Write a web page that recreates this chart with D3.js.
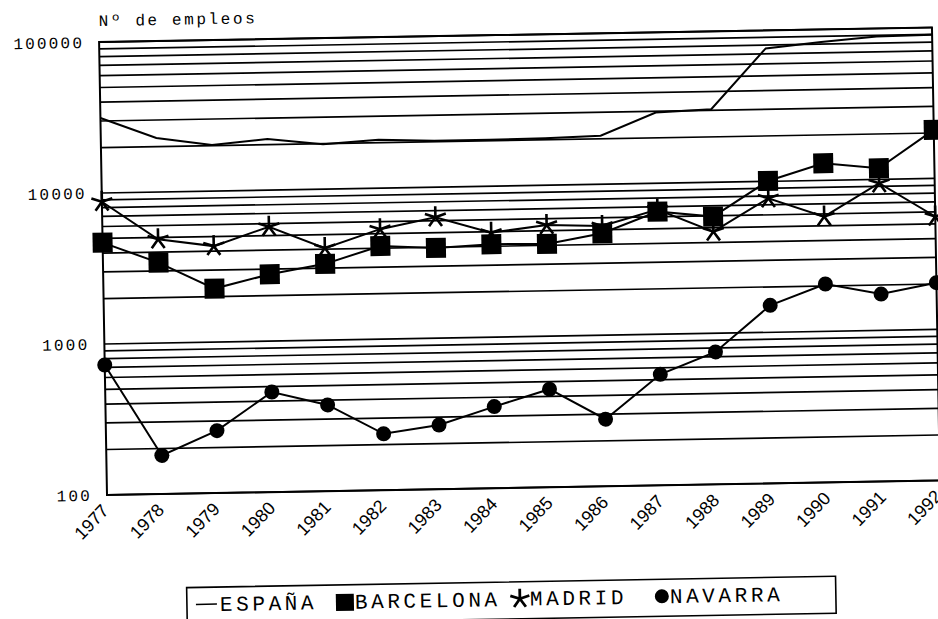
<!DOCTYPE html>
<html lang="es">
<head>
<meta charset="UTF-8">
<title>Nº de empleos 1977-1992</title>
<script src="https://d3js.org/d3.v7.min.js"></script>
<style>
    body { margin: 0; background: #fff; }
    svg { display: block; }
    .mono { font-family: 'Liberation Mono', 'DejaVu Sans Mono', monospace; fill: #000; }
    .yr text { font-family: 'Liberation Sans', Arial, sans-serif; font-size: 18px; fill: #000; }
    .grid line { stroke: #000; stroke-width: 1.7px; }
    .serie { fill: none; stroke: #000; stroke-width: 2px; }
</style>
</head>
<body>
<svg id="chart" width="938" height="619"></svg>
<script>
    // datos (nº de empleos, escala logarítmica)
    const years = ["1977","1978","1979","1980","1981","1982","1983","1984",
                   "1985","1986","1987","1988","1989","1990","1991","1992"];
    const espana    = [31400, 22800, 20200, 21800, 19800, 20900, 20300, 20300,
                       20500, 21000, 29400, 30500, 76000, 82500, 88500, 89500];
    const barcelona = [4690, 3410, 2260, 2770, 3200, 4140, 3960, 4130,
                       4090, 4740, 6500, 5930, 10070, 13000, 11860, 21000];
    const madrid    = [8750, 4870, 4320, 5720, 4070, 5350, 6330, 4920,
                       5460, 5300, 6700, 4720, 7730, 5760, 9440, 5600];
    const navarra   = [726, 180, 259, 460, 372, 236, 266, 347,
                       446, 278, 543, 753, 1510, 2060, 1740, 2040];
    const yTicks = [100, 1000, 10000, 100000];

    const series = [
        { name: "ESPAÑA",    values: espana,    mark: "line" },
        { name: "BARCELONA", values: barcelona, mark: "square" },
        { name: "MADRID",    values: madrid,    mark: "star" },
        { name: "NAVARRA",   values: navarra,   mark: "circle" }
    ];

    const mLeft = 107, mRight = 940, mTop = 42, mBottom = 495;
    const svg = d3.select("#chart");
    svg.append("rect").attr("width", 938).attr("height", 619).attr("fill", "#fff");

    // la hoja escaneada está algo torcida
    const g = svg.append("g").attr("transform", `rotate(-1, 105, ${mBottom})`);

    const x = d3.scalePoint().domain(years).range([mLeft, mRight]);
    const y = d3.scaleLog().domain([100, 100000]).range([mBottom, mTop]);

    // líneas horizontales (2..9 de cada década)
    g.append("g").attr("class", "grid")
        .selectAll("line").data(y.ticks()).join("line")
        .attr("x1", mLeft).attr("x2", mRight)
        .attr("y1", d => y(d)).attr("y2", d => y(d));

    g.append("rect")
        .attr("x", mLeft).attr("y", mTop)
        .attr("width", mRight - mLeft).attr("height", mBottom - mTop)
        .attr("fill", "none").attr("stroke", "#000").attr("stroke-width", 2);

    // eje Y
    const yAxis = g.append("g")
        .attr("transform", `translate(${mLeft},0)`)
        .call(d3.axisLeft(y).tickValues(yTicks).tickSize(0).tickPadding(15).tickFormat(d3.format("d")));
    yAxis.select(".domain").remove();
    yAxis.selectAll("text").attr("class", "mono")
        .style("font-size", "16px").style("letter-spacing", "2.2px");

    g.append("text").attr("class", "mono")
        .attr("x", mLeft).attr("y", 26)
        .style("font-size", "16px").style("letter-spacing", "2.6px")
        .text("Nº de empleos");

    // eje X
    const xAxis = g.append("g").attr("class", "yr")
        .attr("transform", `translate(0,${mBottom})`)
        .call(d3.axisBottom(x).tickSize(0));
    xAxis.select(".domain").remove();
    xAxis.selectAll("text")
        .attr("x", 0).attr("y", 0).attr("dy", 0)
        .attr("text-anchor", "end")
        .attr("transform", "translate(2,17) rotate(-45)");

    // marcadores
    const starPath = r => d3.range(5).map(i => {
        const a = (-90 + 72 * i) * Math.PI / 180;
        return `M0,0L${(r * Math.cos(a)).toFixed(2)},${(r * Math.sin(a)).toFixed(2)}`;
    }).join("");

    function drawMark(sel, mark) {
        if (mark === "square") {
            sel.append("rect").attr("x", -10).attr("y", -10).attr("width", 20).attr("height", 20).attr("fill", "#000");
        } else if (mark === "circle") {
            sel.append("circle").attr("r", 7.5).attr("fill", "#000");
        } else if (mark === "star") {
            sel.append("path").attr("d", starPath(11)).attr("stroke", "#000").attr("stroke-width", 2.6).attr("fill", "none");
        }
    }

    const line = d3.line().x((d, i) => x(years[i])).y(d => y(d));
    const drawOrder = [series[0], series[3], series[2], series[1]];
    drawOrder.forEach(s => {
        g.append("path").datum(s.values).attr("class", "serie").attr("d", line);
        if (s.mark === "line") return;
        const pts = g.append("g").selectAll("g").data(s.values).join("g")
            .attr("transform", (d, i) => `translate(${x(years[i])},${y(d)})`);
        pts.each(function () { drawMark(d3.select(this), s.mark); });
    });

    // leyenda
    const legendPos = [{ sx: 205, tx: 218 }, { sx: 343, tx: 353 }, { sx: 518, tx: 528 }, { sx: 660, tx: 668 }];
    g.append("rect")
        .attr("x", 185).attr("y", 589).attr("width", 649).attr("height", 37)
        .attr("fill", "none").attr("stroke", "#000").attr("stroke-width", 1.6);
    series.forEach((s, i) => {
        const p = legendPos[i];
        const sym = g.append("g").attr("transform", `translate(${p.sx},606)`);
        if (s.mark === "line") {
            sym.append("line").attr("x1", -11).attr("x2", 10).attr("stroke", "#000").attr("stroke-width", 1.6);
        } else if (s.mark === "square") {
            sym.append("rect").attr("x", -9).attr("y", -8).attr("width", 18).attr("height", 17).attr("fill", "#000");
        } else if (s.mark === "circle") {
            sym.append("circle").attr("r", 7).attr("fill", "#000");
        } else {
            sym.append("path").attr("d", starPath(10)).attr("stroke", "#000").attr("stroke-width", 2.8);
        }
        g.append("text").attr("class", "mono")
            .attr("x", p.tx).attr("y", 613)
            .style("font-size", "21px").style("letter-spacing", "3.6px")
            .text(s.name);
    });
</script>
</body>
</html>
